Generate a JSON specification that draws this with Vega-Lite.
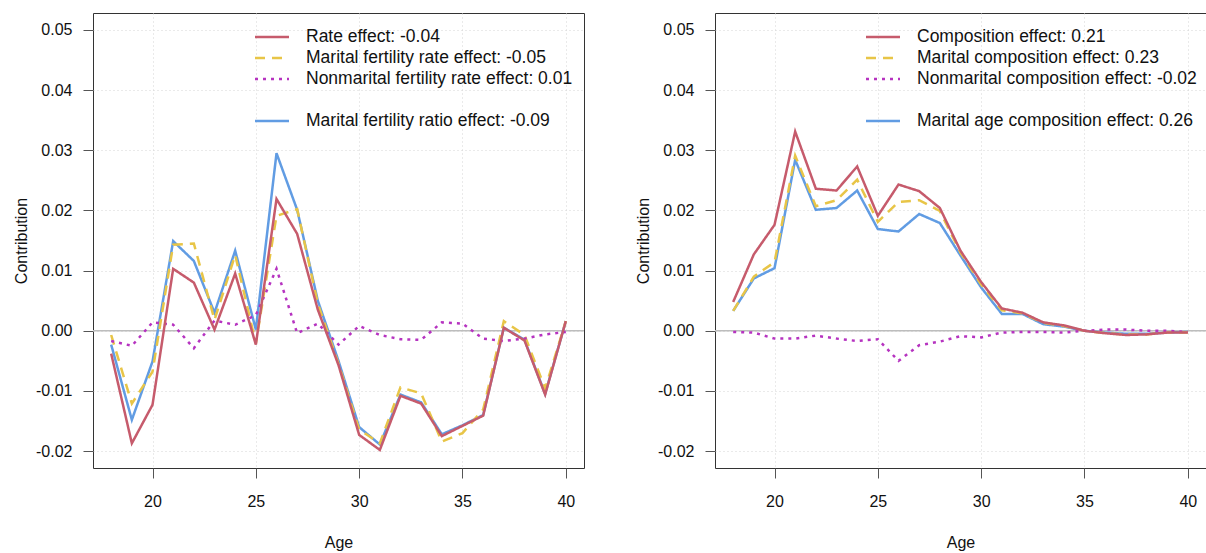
{
  "$schema": "https://vega.github.io/schema/vega-lite/v6.json",
  "background": "white",
  "padding": {"left": 13, "top": 12, "right": 0, "bottom": 0},
  "config": {
    "locale": {"number": {"decimal": ".", "thousands": ",", "grouping": [3], "currency": ["$", ""], "minus": "-"}},
    "font": "Liberation Sans",
    "view": {"stroke": "#333333", "strokeWidth": 1},
    "axis": {
      "labelFont": "Liberation Sans", "labelFontSize": 16, "labelColor": "#111111",
      "titleFont": "Liberation Sans", "titleFontSize": 16, "titleFontWeight": "normal", "titleColor": "#111111",
      "tickColor": "#555555", "tickSize": 10, "tickWidth": 1, "domain": false,
      "grid": true, "gridColor": "#d4d4d4", "gridDash": [1, 3], "gridWidth": 1
    },
    "axisX": {"labelPadding": 15, "titlePadding": 25},
    "axisY": {"labelPadding": 11, "titlePadding": 6},
    "legend": {
      "orient": "none", "title": null, "symbolType": "M-2,0H2", "symbolSize": 289, "symbolStrokeWidth": 2.5,
      "labelFont": "Liberation Sans", "labelFontSize": 17.5, "labelColor": "#111111", "labelOffset": 24,
      "rowPadding": 2, "padding": 0, "labelLimit": 400
    }
  },
  "spacing": 131,
  "bounds": "flush",
  "resolve": {"scale": {"color": "independent", "strokeDash": "independent"}, "legend": {"color": "independent", "strokeDash": "independent"}},
  "hconcat": [
    {
      "width": 491,
      "height": 455,
      "layer": [
        {
          "data": {"values": [{"level": 0}]},
          "mark": {"type": "rule", "color": "#bdbdbd", "strokeWidth": 1.5},
          "encoding": {"y": {"field": "level", "type": "quantitative"}}
        },
        {
          "data": {"values": [
            {"age": 18, "series": "Marital fertility ratio effect: -0.09", "value": -0.0023},
            {"age": 19, "series": "Marital fertility ratio effect: -0.09", "value": -0.0148},
            {"age": 20, "series": "Marital fertility ratio effect: -0.09", "value": -0.0051},
            {"age": 21, "series": "Marital fertility ratio effect: -0.09", "value": 0.0149},
            {"age": 22, "series": "Marital fertility ratio effect: -0.09", "value": 0.0116},
            {"age": 23, "series": "Marital fertility ratio effect: -0.09", "value": 0.0030},
            {"age": 24, "series": "Marital fertility ratio effect: -0.09", "value": 0.0133},
            {"age": 25, "series": "Marital fertility ratio effect: -0.09", "value": 0.0002},
            {"age": 26, "series": "Marital fertility ratio effect: -0.09", "value": 0.0295},
            {"age": 27, "series": "Marital fertility ratio effect: -0.09", "value": 0.0201},
            {"age": 28, "series": "Marital fertility ratio effect: -0.09", "value": 0.0050},
            {"age": 29, "series": "Marital fertility ratio effect: -0.09", "value": -0.0050},
            {"age": 30, "series": "Marital fertility ratio effect: -0.09", "value": -0.0160},
            {"age": 31, "series": "Marital fertility ratio effect: -0.09", "value": -0.0189},
            {"age": 32, "series": "Marital fertility ratio effect: -0.09", "value": -0.0106},
            {"age": 33, "series": "Marital fertility ratio effect: -0.09", "value": -0.0119},
            {"age": 34, "series": "Marital fertility ratio effect: -0.09", "value": -0.0172},
            {"age": 35, "series": "Marital fertility ratio effect: -0.09", "value": -0.0157},
            {"age": 36, "series": "Marital fertility ratio effect: -0.09", "value": -0.0140},
            {"age": 37, "series": "Marital fertility ratio effect: -0.09", "value": 0.0005},
            {"age": 38, "series": "Marital fertility ratio effect: -0.09", "value": -0.0015},
            {"age": 39, "series": "Marital fertility ratio effect: -0.09", "value": -0.0105},
            {"age": 40, "series": "Marital fertility ratio effect: -0.09", "value": 0.0016},
            {"age": 18, "series": "Marital fertility rate effect: -0.05", "value": -0.0007},
            {"age": 19, "series": "Marital fertility rate effect: -0.05", "value": -0.0121},
            {"age": 20, "series": "Marital fertility rate effect: -0.05", "value": -0.0068},
            {"age": 21, "series": "Marital fertility rate effect: -0.05", "value": 0.0143},
            {"age": 22, "series": "Marital fertility rate effect: -0.05", "value": 0.0145},
            {"age": 23, "series": "Marital fertility rate effect: -0.05", "value": 0.0018},
            {"age": 24, "series": "Marital fertility rate effect: -0.05", "value": 0.0126},
            {"age": 25, "series": "Marital fertility rate effect: -0.05", "value": -0.0021},
            {"age": 26, "series": "Marital fertility rate effect: -0.05", "value": 0.0191},
            {"age": 27, "series": "Marital fertility rate effect: -0.05", "value": 0.0202},
            {"age": 28, "series": "Marital fertility rate effect: -0.05", "value": 0.0045},
            {"age": 29, "series": "Marital fertility rate effect: -0.05", "value": -0.0055},
            {"age": 30, "series": "Marital fertility rate effect: -0.05", "value": -0.0164},
            {"age": 31, "series": "Marital fertility rate effect: -0.05", "value": -0.0187},
            {"age": 32, "series": "Marital fertility rate effect: -0.05", "value": -0.0094},
            {"age": 33, "series": "Marital fertility rate effect: -0.05", "value": -0.0104},
            {"age": 34, "series": "Marital fertility rate effect: -0.05", "value": -0.0184},
            {"age": 35, "series": "Marital fertility rate effect: -0.05", "value": -0.0170},
            {"age": 36, "series": "Marital fertility rate effect: -0.05", "value": -0.0131},
            {"age": 37, "series": "Marital fertility rate effect: -0.05", "value": 0.0016},
            {"age": 38, "series": "Marital fertility rate effect: -0.05", "value": -0.0007},
            {"age": 39, "series": "Marital fertility rate effect: -0.05", "value": -0.0096},
            {"age": 40, "series": "Marital fertility rate effect: -0.05", "value": 0.0016},
            {"age": 18, "series": "Nonmarital fertility rate effect: 0.01", "value": -0.0017},
            {"age": 19, "series": "Nonmarital fertility rate effect: 0.01", "value": -0.0025},
            {"age": 20, "series": "Nonmarital fertility rate effect: 0.01", "value": 0.0014},
            {"age": 21, "series": "Nonmarital fertility rate effect: 0.01", "value": 0.0010},
            {"age": 22, "series": "Nonmarital fertility rate effect: 0.01", "value": -0.0029},
            {"age": 23, "series": "Nonmarital fertility rate effect: 0.01", "value": 0.0017},
            {"age": 24, "series": "Nonmarital fertility rate effect: 0.01", "value": 0.0010},
            {"age": 25, "series": "Nonmarital fertility rate effect: 0.01", "value": 0.0026},
            {"age": 26, "series": "Nonmarital fertility rate effect: 0.01", "value": 0.0103},
            {"age": 27, "series": "Nonmarital fertility rate effect: 0.01", "value": -0.0004},
            {"age": 28, "series": "Nonmarital fertility rate effect: 0.01", "value": 0.0012},
            {"age": 29, "series": "Nonmarital fertility rate effect: 0.01", "value": -0.0023},
            {"age": 30, "series": "Nonmarital fertility rate effect: 0.01", "value": 0.0008},
            {"age": 31, "series": "Nonmarital fertility rate effect: 0.01", "value": -0.0007},
            {"age": 32, "series": "Nonmarital fertility rate effect: 0.01", "value": -0.0014},
            {"age": 33, "series": "Nonmarital fertility rate effect: 0.01", "value": -0.0015},
            {"age": 34, "series": "Nonmarital fertility rate effect: 0.01", "value": 0.0014},
            {"age": 35, "series": "Nonmarital fertility rate effect: 0.01", "value": 0.0012},
            {"age": 36, "series": "Nonmarital fertility rate effect: 0.01", "value": -0.0013},
            {"age": 37, "series": "Nonmarital fertility rate effect: 0.01", "value": -0.0017},
            {"age": 38, "series": "Nonmarital fertility rate effect: 0.01", "value": -0.0013},
            {"age": 39, "series": "Nonmarital fertility rate effect: 0.01", "value": -0.0006},
            {"age": 40, "series": "Nonmarital fertility rate effect: 0.01", "value": -0.0002},
            {"age": 18, "series": "Rate effect: -0.04", "value": -0.0038},
            {"age": 19, "series": "Rate effect: -0.04", "value": -0.0187},
            {"age": 20, "series": "Rate effect: -0.04", "value": -0.0123},
            {"age": 21, "series": "Rate effect: -0.04", "value": 0.0103},
            {"age": 22, "series": "Rate effect: -0.04", "value": 0.0080},
            {"age": 23, "series": "Rate effect: -0.04", "value": 0.0002},
            {"age": 24, "series": "Rate effect: -0.04", "value": 0.0095},
            {"age": 25, "series": "Rate effect: -0.04", "value": -0.0023},
            {"age": 26, "series": "Rate effect: -0.04", "value": 0.0219},
            {"age": 27, "series": "Rate effect: -0.04", "value": 0.0161},
            {"age": 28, "series": "Rate effect: -0.04", "value": 0.0035},
            {"age": 29, "series": "Rate effect: -0.04", "value": -0.0057},
            {"age": 30, "series": "Rate effect: -0.04", "value": -0.0173},
            {"age": 31, "series": "Rate effect: -0.04", "value": -0.0198},
            {"age": 32, "series": "Rate effect: -0.04", "value": -0.0108},
            {"age": 33, "series": "Rate effect: -0.04", "value": -0.0121},
            {"age": 34, "series": "Rate effect: -0.04", "value": -0.0175},
            {"age": 35, "series": "Rate effect: -0.04", "value": -0.0158},
            {"age": 36, "series": "Rate effect: -0.04", "value": -0.0141},
            {"age": 37, "series": "Rate effect: -0.04", "value": 0.0005},
            {"age": 38, "series": "Rate effect: -0.04", "value": -0.0016},
            {"age": 39, "series": "Rate effect: -0.04", "value": -0.0106},
            {"age": 40, "series": "Rate effect: -0.04", "value": 0.0016}
          ]},
          "mark": {"type": "line", "strokeWidth": 2.5, "strokeCap": "butt"},
          "encoding": {
            "x": {"field": "age", "type": "quantitative", "scale": {"domain": [17.12, 40.88], "nice": false, "zero": false}, "axis": {"values": [20, 25, 30, 35, 40], "title": "Age"}},
            "y": {"field": "value", "type": "quantitative", "scale": {"domain": [-0.0228, 0.0528], "nice": false}, "axis": {"values": [-0.02, -0.01, 0, 0.01, 0.02, 0.03, 0.04, 0.05], "format": ".2f", "title": "Contribution"}},
            "color": {
              "field": "series", "type": "nominal",
              "scale": {"domain": ["Rate effect: -0.04", "Marital fertility rate effect: -0.05", "Nonmarital fertility rate effect: 0.01", " ", "Marital fertility ratio effect: -0.09"], "range": ["#C65B6C", "#E8C547", "#B633C0", "transparent", "#619CE3"]},
              "legend": {"orient": "none", "legendX": 169, "legendY": 14}
            },
            "strokeDash": {
              "field": "series", "type": "nominal",
              "scale": {"domain": ["Rate effect: -0.04", "Marital fertility rate effect: -0.05", "Nonmarital fertility rate effect: 0.01", " ", "Marital fertility ratio effect: -0.09"], "range": [[1, 0], [10, 7], [3, 5], [1, 0], [1, 0]]}
            }
          }
        }
      ]
    },
    {
      "width": 491,
      "height": 455,
      "layer": [
        {
          "data": {"values": [{"level": 0}]},
          "mark": {"type": "rule", "color": "#bdbdbd", "strokeWidth": 1.5},
          "encoding": {"y": {"field": "level", "type": "quantitative"}}
        },
        {
          "data": {"values": [
            {"age": 18, "series": "Marital age composition effect: 0.26", "value": 0.0033},
            {"age": 19, "series": "Marital age composition effect: 0.26", "value": 0.0087},
            {"age": 20, "series": "Marital age composition effect: 0.26", "value": 0.0104},
            {"age": 21, "series": "Marital age composition effect: 0.26", "value": 0.0284},
            {"age": 22, "series": "Marital age composition effect: 0.26", "value": 0.0201},
            {"age": 23, "series": "Marital age composition effect: 0.26", "value": 0.0204},
            {"age": 24, "series": "Marital age composition effect: 0.26", "value": 0.0233},
            {"age": 25, "series": "Marital age composition effect: 0.26", "value": 0.0169},
            {"age": 26, "series": "Marital age composition effect: 0.26", "value": 0.0165},
            {"age": 27, "series": "Marital age composition effect: 0.26", "value": 0.0194},
            {"age": 28, "series": "Marital age composition effect: 0.26", "value": 0.0179},
            {"age": 29, "series": "Marital age composition effect: 0.26", "value": 0.0125},
            {"age": 30, "series": "Marital age composition effect: 0.26", "value": 0.0072},
            {"age": 31, "series": "Marital age composition effect: 0.26", "value": 0.0028},
            {"age": 32, "series": "Marital age composition effect: 0.26", "value": 0.0028},
            {"age": 33, "series": "Marital age composition effect: 0.26", "value": 0.0011},
            {"age": 34, "series": "Marital age composition effect: 0.26", "value": 0.0007},
            {"age": 35, "series": "Marital age composition effect: 0.26", "value": 0.0000},
            {"age": 36, "series": "Marital age composition effect: 0.26", "value": -0.0003},
            {"age": 37, "series": "Marital age composition effect: 0.26", "value": -0.0005},
            {"age": 38, "series": "Marital age composition effect: 0.26", "value": -0.0005},
            {"age": 39, "series": "Marital age composition effect: 0.26", "value": -0.0003},
            {"age": 40, "series": "Marital age composition effect: 0.26", "value": -0.0002},
            {"age": 18, "series": "Marital composition effect: 0.23", "value": 0.0033},
            {"age": 19, "series": "Marital composition effect: 0.23", "value": 0.0090},
            {"age": 20, "series": "Marital composition effect: 0.23", "value": 0.0114},
            {"age": 21, "series": "Marital composition effect: 0.23", "value": 0.0291},
            {"age": 22, "series": "Marital composition effect: 0.23", "value": 0.0207},
            {"age": 23, "series": "Marital composition effect: 0.23", "value": 0.0217},
            {"age": 24, "series": "Marital composition effect: 0.23", "value": 0.0251},
            {"age": 25, "series": "Marital composition effect: 0.23", "value": 0.0181},
            {"age": 26, "series": "Marital composition effect: 0.23", "value": 0.0214},
            {"age": 27, "series": "Marital composition effect: 0.23", "value": 0.0217},
            {"age": 28, "series": "Marital composition effect: 0.23", "value": 0.0199},
            {"age": 29, "series": "Marital composition effect: 0.23", "value": 0.0130},
            {"age": 30, "series": "Marital composition effect: 0.23", "value": 0.0077},
            {"age": 31, "series": "Marital composition effect: 0.23", "value": 0.0034},
            {"age": 32, "series": "Marital composition effect: 0.23", "value": 0.0029},
            {"age": 33, "series": "Marital composition effect: 0.23", "value": 0.0013},
            {"age": 34, "series": "Marital composition effect: 0.23", "value": 0.0008},
            {"age": 35, "series": "Marital composition effect: 0.23", "value": 0.0000},
            {"age": 36, "series": "Marital composition effect: 0.23", "value": -0.0004},
            {"age": 37, "series": "Marital composition effect: 0.23", "value": -0.0006},
            {"age": 38, "series": "Marital composition effect: 0.23", "value": -0.0006},
            {"age": 39, "series": "Marital composition effect: 0.23", "value": -0.0003},
            {"age": 40, "series": "Marital composition effect: 0.23", "value": -0.0003},
            {"age": 18, "series": "Nonmarital composition effect: -0.02", "value": -0.0002},
            {"age": 19, "series": "Nonmarital composition effect: -0.02", "value": -0.0003},
            {"age": 20, "series": "Nonmarital composition effect: -0.02", "value": -0.0013},
            {"age": 21, "series": "Nonmarital composition effect: -0.02", "value": -0.0013},
            {"age": 22, "series": "Nonmarital composition effect: -0.02", "value": -0.0008},
            {"age": 23, "series": "Nonmarital composition effect: -0.02", "value": -0.0013},
            {"age": 24, "series": "Nonmarital composition effect: -0.02", "value": -0.0017},
            {"age": 25, "series": "Nonmarital composition effect: -0.02", "value": -0.0014},
            {"age": 26, "series": "Nonmarital composition effect: -0.02", "value": -0.0050},
            {"age": 27, "series": "Nonmarital composition effect: -0.02", "value": -0.0024},
            {"age": 28, "series": "Nonmarital composition effect: -0.02", "value": -0.0018},
            {"age": 29, "series": "Nonmarital composition effect: -0.02", "value": -0.0009},
            {"age": 30, "series": "Nonmarital composition effect: -0.02", "value": -0.0011},
            {"age": 31, "series": "Nonmarital composition effect: -0.02", "value": -0.0003},
            {"age": 32, "series": "Nonmarital composition effect: -0.02", "value": -0.0002},
            {"age": 33, "series": "Nonmarital composition effect: -0.02", "value": -0.0002},
            {"age": 34, "series": "Nonmarital composition effect: -0.02", "value": -0.0003},
            {"age": 35, "series": "Nonmarital composition effect: -0.02", "value": 0.0000},
            {"age": 36, "series": "Nonmarital composition effect: -0.02", "value": 0.0002},
            {"age": 37, "series": "Nonmarital composition effect: -0.02", "value": 0.0002},
            {"age": 38, "series": "Nonmarital composition effect: -0.02", "value": 0.0000},
            {"age": 39, "series": "Nonmarital composition effect: -0.02", "value": 0.0000},
            {"age": 40, "series": "Nonmarital composition effect: -0.02", "value": -0.0002},
            {"age": 18, "series": "Composition effect: 0.21", "value": 0.0048},
            {"age": 19, "series": "Composition effect: 0.21", "value": 0.0127},
            {"age": 20, "series": "Composition effect: 0.21", "value": 0.0176},
            {"age": 21, "series": "Composition effect: 0.21", "value": 0.0331},
            {"age": 22, "series": "Composition effect: 0.21", "value": 0.0236},
            {"age": 23, "series": "Composition effect: 0.21", "value": 0.0233},
            {"age": 24, "series": "Composition effect: 0.21", "value": 0.0273},
            {"age": 25, "series": "Composition effect: 0.21", "value": 0.0191},
            {"age": 26, "series": "Composition effect: 0.21", "value": 0.0243},
            {"age": 27, "series": "Composition effect: 0.21", "value": 0.0232},
            {"age": 28, "series": "Composition effect: 0.21", "value": 0.0204},
            {"age": 29, "series": "Composition effect: 0.21", "value": 0.0133},
            {"age": 30, "series": "Composition effect: 0.21", "value": 0.0081},
            {"age": 31, "series": "Composition effect: 0.21", "value": 0.0037},
            {"age": 32, "series": "Composition effect: 0.21", "value": 0.0030},
            {"age": 33, "series": "Composition effect: 0.21", "value": 0.0014},
            {"age": 34, "series": "Composition effect: 0.21", "value": 0.0009},
            {"age": 35, "series": "Composition effect: 0.21", "value": 0.0000},
            {"age": 36, "series": "Composition effect: 0.21", "value": -0.0004},
            {"age": 37, "series": "Composition effect: 0.21", "value": -0.0007},
            {"age": 38, "series": "Composition effect: 0.21", "value": -0.0006},
            {"age": 39, "series": "Composition effect: 0.21", "value": -0.0003},
            {"age": 40, "series": "Composition effect: 0.21", "value": -0.0003}
          ]},
          "mark": {"type": "line", "strokeWidth": 2.5, "strokeCap": "butt"},
          "encoding": {
            "x": {"field": "age", "type": "quantitative", "scale": {"domain": [17.12, 40.88], "nice": false, "zero": false}, "axis": {"values": [20, 25, 30, 35, 40], "title": "Age"}},
            "y": {"field": "value", "type": "quantitative", "scale": {"domain": [-0.0228, 0.0528], "nice": false}, "axis": {"values": [-0.02, -0.01, 0, 0.01, 0.02, 0.03, 0.04, 0.05], "format": ".2f", "title": "Contribution"}},
            "color": {
              "field": "series", "type": "nominal",
              "scale": {"domain": ["Composition effect: 0.21", "Marital composition effect: 0.23", "Nonmarital composition effect: -0.02", " ", "Marital age composition effect: 0.26"], "range": ["#C65B6C", "#E8C547", "#B633C0", "transparent", "#619CE3"]},
              "legend": {"orient": "none", "legendX": 158, "legendY": 14}
            },
            "strokeDash": {
              "field": "series", "type": "nominal",
              "scale": {"domain": ["Composition effect: 0.21", "Marital composition effect: 0.23", "Nonmarital composition effect: -0.02", " ", "Marital age composition effect: 0.26"], "range": [[1, 0], [10, 7], [3, 5], [1, 0], [1, 0]]}
            }
          }
        }
      ]
    }
  ]
}
